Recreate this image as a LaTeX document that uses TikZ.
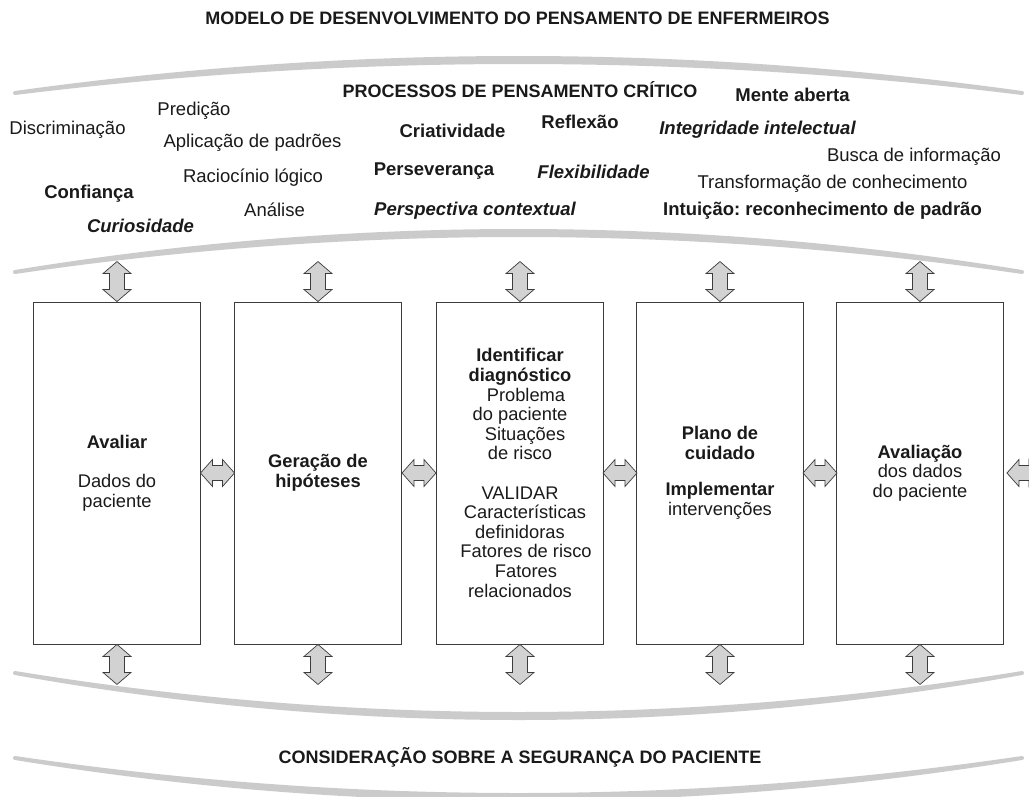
\documentclass[tikz,border=0pt]{standalone}
\usepackage{fontspec}
\setmainfont{Liberation Sans}
\usetikzlibrary{calc}
\definecolor{arcgray}{HTML}{CBCBCB}
\definecolor{arrfill}{HTML}{D2D2D2}
\definecolor{arrline}{HTML}{3C3C3C}
\definecolor{ink}{HTML}{1A1A1A}
% tapered gray band: #1 end y upper, #2 quad ctrl y upper, #3 end y lower, #4 quad ctrl y lower
\newcommand{\grayband}[4]{%
  \fill[arcgray] (15,#1) .. controls (350.67,{#1+2/3*(#2-(#1))}) and (686.33,{#1+2/3*(#2-(#1))}) .. (1022,#1)
    arc[start angle=-90,end angle=90,radius={((#3)-(#1))/2}]
    .. controls (686.33,{#3+2/3*(#4-(#3))}) and (350.67,{#3+2/3*(#4-(#3))}) .. (15,#3)
    arc[start angle=90,end angle=270,radius={((#3)-(#1))/2}] -- cycle;}
% double arrow: #1 centre, #2 rotation, #3 half length, #4 head half width, #5 shaft half width
\newcommand{\dblarrow}[5]{%
  \draw[arr, shift={#1}, rotate=#2] (-#3,0) -- (-#3+12,#4) -- (-#3+12,#5) -- (#3-12,#5) -- (#3-12,#4)
    -- (#3,0) -- (#3-12,-#4) -- (#3-12,-#5) -- (-#3+12,-#5) -- (-#3+12,-#4) -- cycle;}
\begin{document}
\begin{tikzpicture}[x=1pt,y=-1pt,
  ttl/.style={anchor=base, inner sep=0pt, text=ink, font=\fontsize{18}{20}\selectfont\bfseries},
  lbl/.style={anchor=base, inner sep=0pt, text=ink, font=\fontsize{18.5}{20}\selectfont},
  bl/.style={lbl, font=\fontsize{18.5}{20}\selectfont\bfseries},
  bi/.style={lbl, font=\fontsize{18.5}{20}\selectfont\bfseries\itshape},
  boxnode/.style={draw=arrline, line width=0.9pt, minimum width=167pt, minimum height=342pt,
    inner sep=0pt, align=center, text=ink, font=\fontsize{18.3}{19.6}\selectfont},
  arr/.style={fill=arrfill, draw=arrline, line width=0.7pt, line join=miter}]
\useasboundingbox (0,0) rectangle (1029,796);
\begin{scope}
\clip (0,0) rectangle (1029,796);
\fill[white] (0,0) rectangle (1029,796);

% gray bands
\grayband{91}{21}{95}{33}
\grayband{270}{188}{274}{200}
\grayband{671}{753}{675}{765}
\grayband{756}{830}{760}{842}

% titles
\node[ttl] (title) at (517.5,24) {MODELO DE DESENVOLVIMENTO DO PENSAMENTO DE ENFERMEIROS};
\node[ttl] (proc) at (520,97) {PROCESSOS DE PENSAMENTO CRÍTICO};
\node[ttl] (seg) at (520,763) {CONSIDERAÇÃO SOBRE A SEGURANÇA DO PACIENTE};

% critical thinking items
\node[lbl] (t1) at (194,115) {Predição};
\node[lbl] (t2) at (67.5,134) {Discriminação};
\node[lbl] (t3) at (252.5,147) {Aplicação de padrões};
\node[lbl] (t4) at (253,182) {Raciocínio lógico};
\node[bl]  (t5) at (89,198) {Confiança};
\node[lbl] (t6) at (274.5,216) {Análise};
\node[bi]  (t7) at (140.5,232) {Curiosidade};
\node[bl]  (t8) at (452.5,137) {Criatividade};
\node[bl]  (t9) at (434,175) {Perseverança};
\node[bi]  (t10) at (475,215) {Perspectiva contextual};
\node[bl]  (t11) at (792.5,101) {Mente aberta};
\node[bl]  (t12) at (580,128) {Reflexão};
\node[bi]  (t13) at (757.5,134) {Integridade intelectual};
\node[lbl] (t14) at (914,161) {Busca de informação};
\node[bi]  (t15) at (593.5,178) {Flexibilidade};
\node[lbl] (t16) at (832.5,188) {Transformação de conhecimento};
\node[bl]  (t17) at (822.5,215) {Intuição:\ reconhecimento de padrão};

% boxes
\node[boxnode] (b1) at (117,473) {{\bfseries Avaliar}\\[19.6pt]Dados do\\paciente};
\node[boxnode, font=\fontsize{18.3}{19.6}\selectfont\bfseries] (b2) at (318,473) {Geração de\\hipóteses};
\node[boxnode] (b3) at (520,473) {{\bfseries Identificar}\\{\bfseries diagnóstico}\\\hspace*{12pt}Problema\\do paciente\\\hspace*{10pt}Situações\\de risco\\[19.6pt]VALIDAR\\\hspace*{10pt}Características\\definidoras\\\hspace*{12pt}Fatores de risco\\\hspace*{12pt}Fatores\\relacionados};
\node[boxnode] (b4) at (720,473) {{\bfseries Plano de}\\{\bfseries cuidado}\\[17pt]{\bfseries Implementar}\\intervenções};
\node[boxnode] (b5) at (920,473) {{\bfseries Avaliação}\\dos dados\\do paciente};

% vertical double arrows
\foreach \b in {b1,b2,b3,b4,b5}{
  \dblarrow{($(\b.north)+(0,-20)$)}{90}{20}{14}{7.5}
  \dblarrow{($(\b.south)+(0,20)$)}{90}{20}{14}{7.5}
}
% horizontal double arrows
\dblarrow{($(b1.east)!0.5!(b2.west)$)}{0}{17}{13.5}{7.5}
\dblarrow{($(b2.east)!0.5!(b3.west)$)}{0}{17}{13.5}{7.5}
\dblarrow{($(b3.east)!0.5!(b4.west)$)}{0}{17}{13.5}{7.5}
\dblarrow{($(b4.east)!0.5!(b5.west)$)}{0}{17}{13.5}{7.5}
\dblarrow{($(b5.east)+(20,0)$)}{0}{17}{13.5}{7.5}
\end{scope}
\end{tikzpicture}
\end{document}
